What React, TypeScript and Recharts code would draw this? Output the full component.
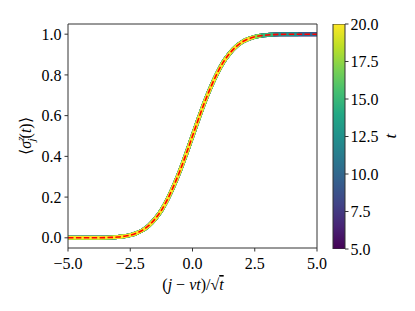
import React from 'react';
import { LineChart, Line, XAxis, YAxis, BarChart, Bar } from 'recharts';

// scaled position (j - vt)/sqrt(t)
const xValues = [
  -5, -4.75, -4.5, -4.25, -4, -3.75, -3.5, -3.25, -3, -2.75, -2.5, -2.25, -2, -1.75, -1.5, -1.25, -1, -0.75, -0.5, -0.25,
  0, 0.25, 0.5, 0.75, 1, 1.25, 1.5, 1.75, 2, 2.25, 2.5, 2.75, 3, 3.25, 3.5, 3.75, 4, 4.25, 4.5, 4.75, 5,
];
// numerical <sigma_j^z(t)> (all t collapse)
const curveValues = [
  0, 0, 0, 0, 0.0001, 0.0003, 0.0009, 0.002, 0.004, 0.0075, 0.013, 0.023, 0.038, 0.061, 0.093, 0.135, 0.19, 0.256, 0.33, 0.413,
  0.5, 0.587, 0.67, 0.744, 0.81, 0.865, 0.907, 0.939, 0.962, 0.977, 0.987, 0.9925, 0.996, 0.998, 0.9991, 0.9997, 0.9999, 1, 1, 1, 1,
];
// analytic prediction (red dashed)
const theoryValues = [
  0, 0, 0, 0, 0.0001, 0.0003, 0.0009, 0.002, 0.004, 0.0075, 0.013, 0.023, 0.038, 0.061, 0.093, 0.135, 0.19, 0.256, 0.33, 0.413,
  0.5, 0.587, 0.67, 0.744, 0.81, 0.865, 0.907, 0.939, 0.962, 0.977, 0.987, 0.9925, 0.996, 0.998, 0.9991, 0.9997, 0.9999, 1, 1, 1, 1,
];
const tValues = [5, 7.5, 10, 12.5, 15, 17.5, 20];
const tColors = ['#440154', '#46327e', '#31688e', '#21918c', '#35b779', '#90d743', '#fde725'];
const seriesEnd = [5, 5, 5, 4.3, 3.25, 2.9, 2.6];

const xTicks = [-5, -2.5, 0, 2.5, 5];
const yTicks = [0, 0.2, 0.4, 0.6, 0.8, 1.0];
const cbTicks = [5, 7.5, 10, 12.5, 15, 17.5, 20];
const viridisStops = ['#440154', '#482475', '#414487', '#355f8d', '#2a788e', '#21918c', '#22a884', '#44bf70', '#7ad151', '#bddf26', '#fde725'];

const rows = xValues.map((x, i) => {
  const row: any = { x, theory: theoryValues[i] };
  tValues.forEach((t, k) => {
    if (x <= seriesEnd[k] + 1e-9) row['t' + k] = curveValues[i];
  });
  return row;
});
const cbData = [{ name: 'cb', v: [5, 20] }];

const FONT = 'Liberation Serif';
const AX = '#333333';
const fmt = (v: number) => (v < 0 ? '\u2212' : '') + Math.abs(v).toFixed(1);
const tickStyle = { fill: '#000', fontSize: 16, fontFamily: FONT };

export default function App() {
  return (
    <div style={{ position: 'absolute', left: 0, top: 0, width: 415, height: 311, background: '#fff' }}>
      <div style={{ position: 'absolute', left: 0, top: 0 }}>
        <LineChart width={415} height={311} data={rows} margin={{ top: 14, right: 88, bottom: 23, left: 8 }}>
          <XAxis
            xAxisId="b"
            dataKey="x"
            type="number"
            domain={[-5, 5]}
            ticks={xTicks}
            tickFormatter={fmt}
            height={40}
            tickSize={3.5}
            tickMargin={6}
            stroke={AX}
            tick={tickStyle}
            allowDataOverflow
            label={{
              content: () => (
                <text x={193} y={290} textAnchor="middle" fill="#000" fontFamily={FONT} fontSize={16}>
                  <tspan>(</tspan>
                  <tspan fontStyle="italic">j</tspan>
                  <tspan> {'\u2212'} </tspan>
                  <tspan fontStyle="italic">vt</tspan>
                  <tspan>)/{'\u221A'}</tspan>
                  <tspan fontStyle="italic" textDecoration="overline">t</tspan>
                </text>
              ),
            }}
          />
          <XAxis
            xAxisId="t"
            dataKey="x"
            type="number"
            orientation="top"
            domain={[-5, 5]}
            ticks={xTicks}
            height={10}
            tickSize={3.5}
            tick={false}
            stroke={AX}
            allowDataOverflow
          />
          <YAxis
            yAxisId="l"
            type="number"
            domain={[-0.05, 1.05]}
            ticks={yTicks}
            tickFormatter={(v: number) => v.toFixed(1)}
            width={60}
            tickSize={3.5}
            tickMargin={3}
            stroke={AX}
            tick={tickStyle}
            allowDataOverflow
            label={{
              content: () => (
                <text x={31} y={136} transform="rotate(-90 31 136)" textAnchor="middle" fill="#000" fontFamily={FONT} fontSize={16}>
                  <tspan>{'\u27E8'}</tspan>
                  <tspan fontStyle="italic">{'\u03C3'}</tspan>
                  <tspan fontStyle="italic" fontSize={11} dy={-7}>z</tspan>
                  <tspan fontStyle="italic" fontSize={11} dx={-5} dy={11}>j</tspan>
                  <tspan dy={-4}>(</tspan>
                  <tspan fontStyle="italic">t</tspan>
                  <tspan>){'\u27E9'}</tspan>
                </text>
              ),
            }}
          />
          <YAxis
            yAxisId="r"
            type="number"
            orientation="right"
            domain={[-0.05, 1.05]}
            ticks={yTicks}
            width={10}
            tickSize={3.5}
            tick={false}
            stroke={AX}
            allowDataOverflow
          />
          {tValues.map((t, k) => (
            <Line
              key={t}
              xAxisId="b"
              yAxisId="l"
              dataKey={'t' + k}
              type="monotone"
              stroke={tColors[k]}
              strokeWidth={k === tValues.length - 1 ? 3.4 : 4.0}
              dot={false}
              isAnimationActive={false}
              connectNulls={false}
            />
          ))}
          <Line
            xAxisId="b"
            yAxisId="l"
            dataKey="theory"
            type="monotone"
            stroke="#ff0000"
            strokeWidth={1.6}
            strokeDasharray="5.5 2.4"
            dot={false}
            isAnimationActive={false}
          />
        </LineChart>
      </div>
      <div style={{ position: 'absolute', left: 0, top: 0 }}>
        <BarChart width={415} height={311} data={cbData} margin={{ top: 24, right: 30, bottom: 62, left: 333 }} barCategoryGap={0} barGap={0}>
          <defs>
            <linearGradient id="vir" x1="0" y1="1" x2="0" y2="0">
              {viridisStops.map((c, i) => (
                <stop key={i} offset={i / (viridisStops.length - 1)} stopColor={c} />
              ))}
            </linearGradient>
          </defs>
          <XAxis dataKey="name" type="category" hide />
          <YAxis
            type="number"
            orientation="right"
            domain={[5, 20]}
            ticks={cbTicks}
            tickFormatter={(v: number) => v.toFixed(1)}
            width={40}
            tickSize={3.5}
            tickMargin={2}
            axisLine={false}
            stroke={AX}
            tick={tickStyle}
            allowDataOverflow
            label={{
              content: () => (
                <text x={396} y={136} transform="rotate(-90 396 136)" textAnchor="middle" fill="#000" fontFamily={FONT} fontSize={17} fontStyle="italic">
                  t
                </text>
              ),
            }}
          />
          <Bar dataKey="v" fill="url(#vir)" stroke={AX} strokeWidth={1} isAnimationActive={false} />
        </BarChart>
      </div>
    </div>
  );
}
